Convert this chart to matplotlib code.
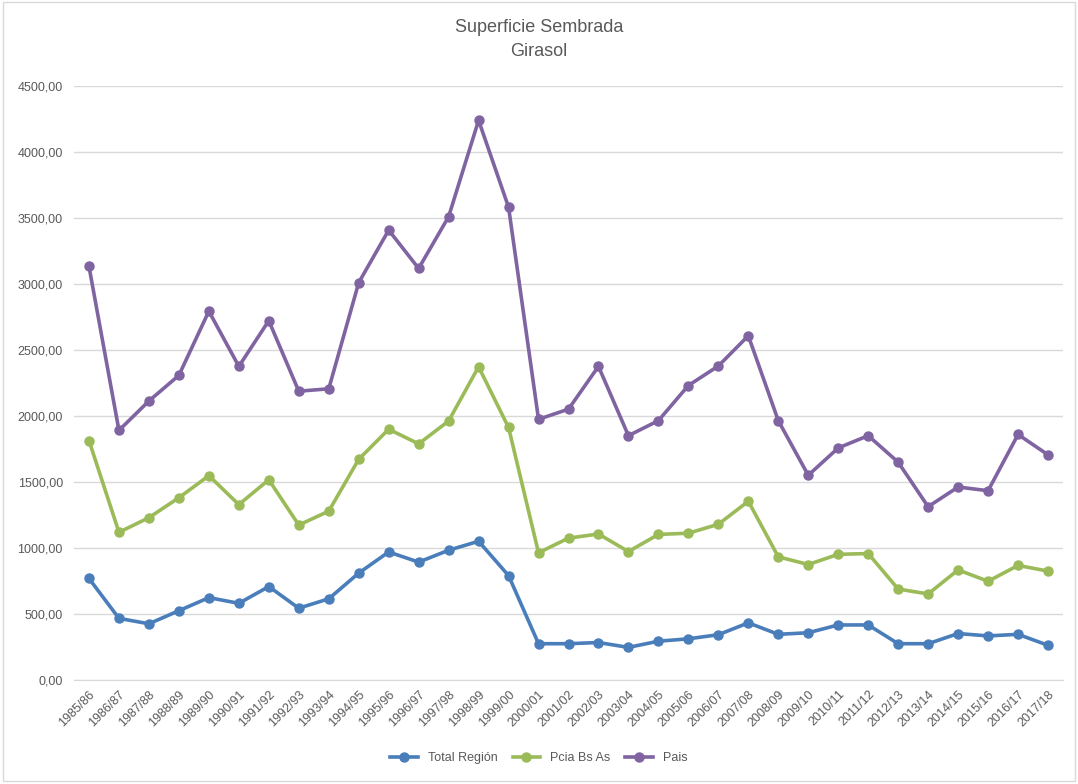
import matplotlib
matplotlib.use("Agg")
from matplotlib import pyplot as plt
from matplotlib.patches import Rectangle

# campañas
campanias = ['1985/86', '1986/87', '1987/88', '1988/89', '1989/90', '1990/91', '1991/92',
             '1992/93', '1993/94', '1994/95', '1995/96', '1996/97', '1997/98', '1998/99',
             '1999/00', '2000/01', '2001/02', '2002/03', '2003/04', '2004/05', '2005/06',
             '2006/07', '2007/08', '2008/09', '2009/10', '2010/11', '2011/12', '2012/13',
             '2013/14', '2014/15', '2015/16', '2016/17', '2017/18']

total_region = [769, 467, 426, 525, 624, 581, 708, 544, 615, 810, 970, 893, 983, 1051,
                791, 275, 275, 284, 247, 294, 312, 343, 433, 346, 358, 417, 417, 275,
                275, 352, 334, 346, 263]

pcia_bs_as = [1814, 1119, 1230, 1381, 1548, 1329, 1517, 1174, 1279, 1672, 1900, 1789, 1962,
              2373, 1913, 964, 1075, 1106, 973, 1103, 1112, 1180, 1354, 933, 875, 952, 958,
              689, 652, 834, 748, 868, 825]

pais = [3133, 1891, 2114, 2308, 2794, 2376, 2722, 2188, 2206, 3010, 3408, 3118, 3510, 4240,
        3582, 1975, 2052, 2376, 1851, 1965, 2231, 2379, 2608, 1965, 1551, 1758, 1851, 1650,
        1313, 1462, 1434, 1860, 1706]

yticks = [0, 500, 1000, 1500, 2000, 2500, 3000, 3500, 4000, 4500]

plt.rcParams['font.family'] = ['Liberation Sans', 'DejaVu Sans']

fig = plt.figure(figsize=(10.78, 7.84), dpi=100)
ax = fig.add_axes([74/1078, 1-680/784, (1063-74)/1078, (680-86)/784])

x = list(range(len(campanias)))
ax.plot(x, total_region, color='#4a7ebb', lw=2.6, marker='o', ms=6.5, label='Total Región')
ax.plot(x, pcia_bs_as, color='#9bbb59', lw=2.6, marker='o', ms=6.5, label='Pcia Bs As')
ax.plot(x, pais, color='#8064a2', lw=2.6, marker='o', ms=6.5, label='Pais')

ax.set_xlim(-0.5, len(campanias) - 0.5)
ax.set_ylim(0, 4500)
ax.set_yticks(yticks)
ax.set_yticklabels(['%d,00' % v for v in yticks])
ax.set_xticks(x)
ax.set_xticklabels(campanias, rotation=45, ha='right', va='top', rotation_mode='anchor')
ax.tick_params(axis='both', length=0, labelsize=9, colors='#595959')
ax.tick_params(axis='y', pad=8)
ax.tick_params(axis='x', pad=6)
ax.grid(axis='y', color='#d9d9d9', lw=1)
ax.set_axisbelow(True)
for s in ['top', 'right', 'left']:
    ax.spines[s].set_visible(False)
ax.spines['bottom'].set_color('#d9d9d9')

fig.text(0.5, 1-28/784, 'Superficie Sembrada', ha='center', va='center', fontsize=13, color='#595959')
fig.text(0.5, 1-52/784, 'Girasol', ha='center', va='center', fontsize=13, color='#595959')

fig.legend(loc='center', bbox_to_anchor=(0.5, 1-758/784), ncol=3, frameon=False,
           fontsize=9, labelcolor='#595959', handlelength=2.2, columnspacing=1.2)

# borde del grafico
fig.patches.append(Rectangle((0.003, 0.004), 0.994, 0.993, transform=fig.transFigure,
                             fill=False, edgecolor='#d9d9d9', lw=1))

fig.savefig('out.png', dpi=100)
